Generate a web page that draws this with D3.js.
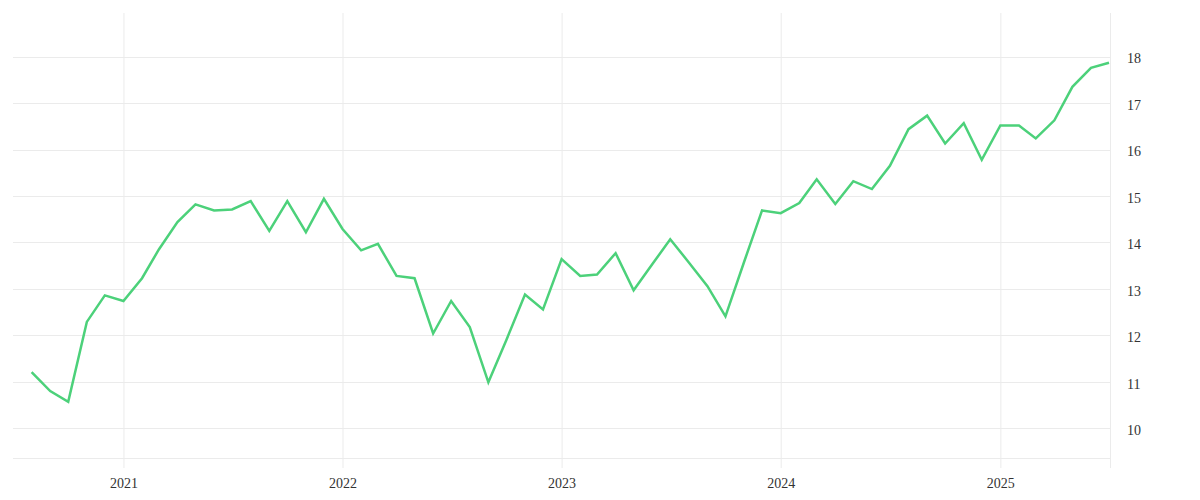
<!DOCTYPE html>
<html>
<head>
<meta charset="utf-8">
<script src="https://cdn.jsdelivr.net/npm/d3@7"></script>
<style>
  html, body { margin: 0; padding: 0; background: #fff; }
  svg { display: block; }
  .tick text { font-family: "Liberation Serif", serif; font-size: 14px; fill: #333; }
</style>
</head>
<body>
<svg id="chart" width="1200" height="500"></svg>
<script>
// Monthly data, Aug 2020 – Jul 2025
const startMonth = "2020-08";
const values = [
  11.21, 10.80, 10.57, 12.29, 12.86,            // Aug–Dec 2020
  12.74, 13.23, 13.85, 14.44, 14.82, 14.69,     // 2021 Jan–Jun
  14.71, 14.89, 14.25, 14.89, 14.22, 14.94,     // 2021 Jul–Dec
  14.29, 13.83, 13.97, 13.28, 13.23, 12.04,     // 2022 Jan–Jun
  12.74, 12.18, 10.99, 11.90, 12.88, 12.56,     // 2022 Jul–Dec
  13.64, 13.28, 13.31, 13.77, 12.97, 13.53,     // 2023 Jan–Jun
  14.07, 13.57, 13.06, 12.41, 13.58, 14.69,     // 2023 Jul–Dec
  14.63, 14.85, 15.36, 14.83, 15.32, 15.15,     // 2024 Jan–Jun
  15.65, 16.44, 16.73, 16.13, 16.57, 15.78,     // 2024 Jul–Dec
  16.52, 16.52, 16.24, 16.63, 17.35, 17.76,     // 2025 Jan–Jun
  17.87                                         // 2025 Jul
];
const yTickValues = [10, 11, 12, 13, 14, 15, 16, 17, 18];
const xTickLabels = ["2021", "2022", "2023", "2024", "2025"];

const parseMonth = d3.timeParse("%Y-%m");
const start = parseMonth(startMonth);
const data = values.map((v, i) => ({ date: d3.timeMonth.offset(start, i), value: v }));

const svg = d3.select("#chart");
const mLeft = 13, mRight = 1110, mTop = 13, mBottom = 458;

const x = d3.scaleTime()
  .domain([d3.timeMonth.offset(start, -1), data[data.length - 1].date])
  .range([mLeft, mRight - 1]);
const y = d3.scaleLinear()
  .domain([9.36, 18.94])
  .range([mBottom, mTop]);

const gridColor = "#ebebeb";

// horizontal grid
svg.append("g")
  .selectAll("line")
  .data(yTickValues)
  .join("line")
  .attr("x1", mLeft).attr("x2", mRight)
  .attr("y1", d => Math.round(y(d)) + 0.5).attr("y2", d => Math.round(y(d)) + 0.5)
  .attr("stroke", gridColor);

// x axis (bottom) with vertical gridlines
const xTicks = xTickLabels.map(s => d3.timeParse("%Y")(s));
const xAxis = d3.axisBottom(x)
  .tickValues(xTicks)
  .tickFormat(d3.timeFormat("%Y"))
  .tickSize(mBottom - mTop + 10)
  .tickPadding(10);
const gx = svg.append("g")
  .attr("transform", `translate(0,${mTop})`)
  .call(xAxis);
gx.select(".domain").remove();
gx.selectAll(".tick line").attr("stroke", gridColor);

// bottom baseline
svg.append("line")
  .attr("x1", mLeft).attr("x2", mRight)
  .attr("y1", mBottom + 0.5).attr("y2", mBottom + 0.5)
  .attr("stroke", gridColor);

// right axis
const yAxis = d3.axisRight(y)
  .tickValues(yTickValues)
  .tickFormat(d3.format("d"))
  .tickSize(0)
  .tickPadding(17);
const gy = svg.append("g")
  .attr("transform", `translate(${mRight},0)`)
  .call(yAxis);
gy.select(".domain").remove();
gy.selectAll(".tick text").attr("dy", "0.45em");
svg.append("line")
  .attr("x1", mRight + 0.5).attr("x2", mRight + 0.5)
  .attr("y1", mTop).attr("y2", mBottom + 10)
  .attr("stroke", gridColor);

// line
const line = d3.line()
  .x(d => x(d.date))
  .y(d => y(d.value));
svg.append("path")
  .datum(data)
  .attr("fill", "none")
  .attr("stroke", "#4cd17a")
  .attr("stroke-width", 2.5)
  .attr("stroke-linejoin", "miter")
  .attr("d", line);
</script>
</body>
</html>
